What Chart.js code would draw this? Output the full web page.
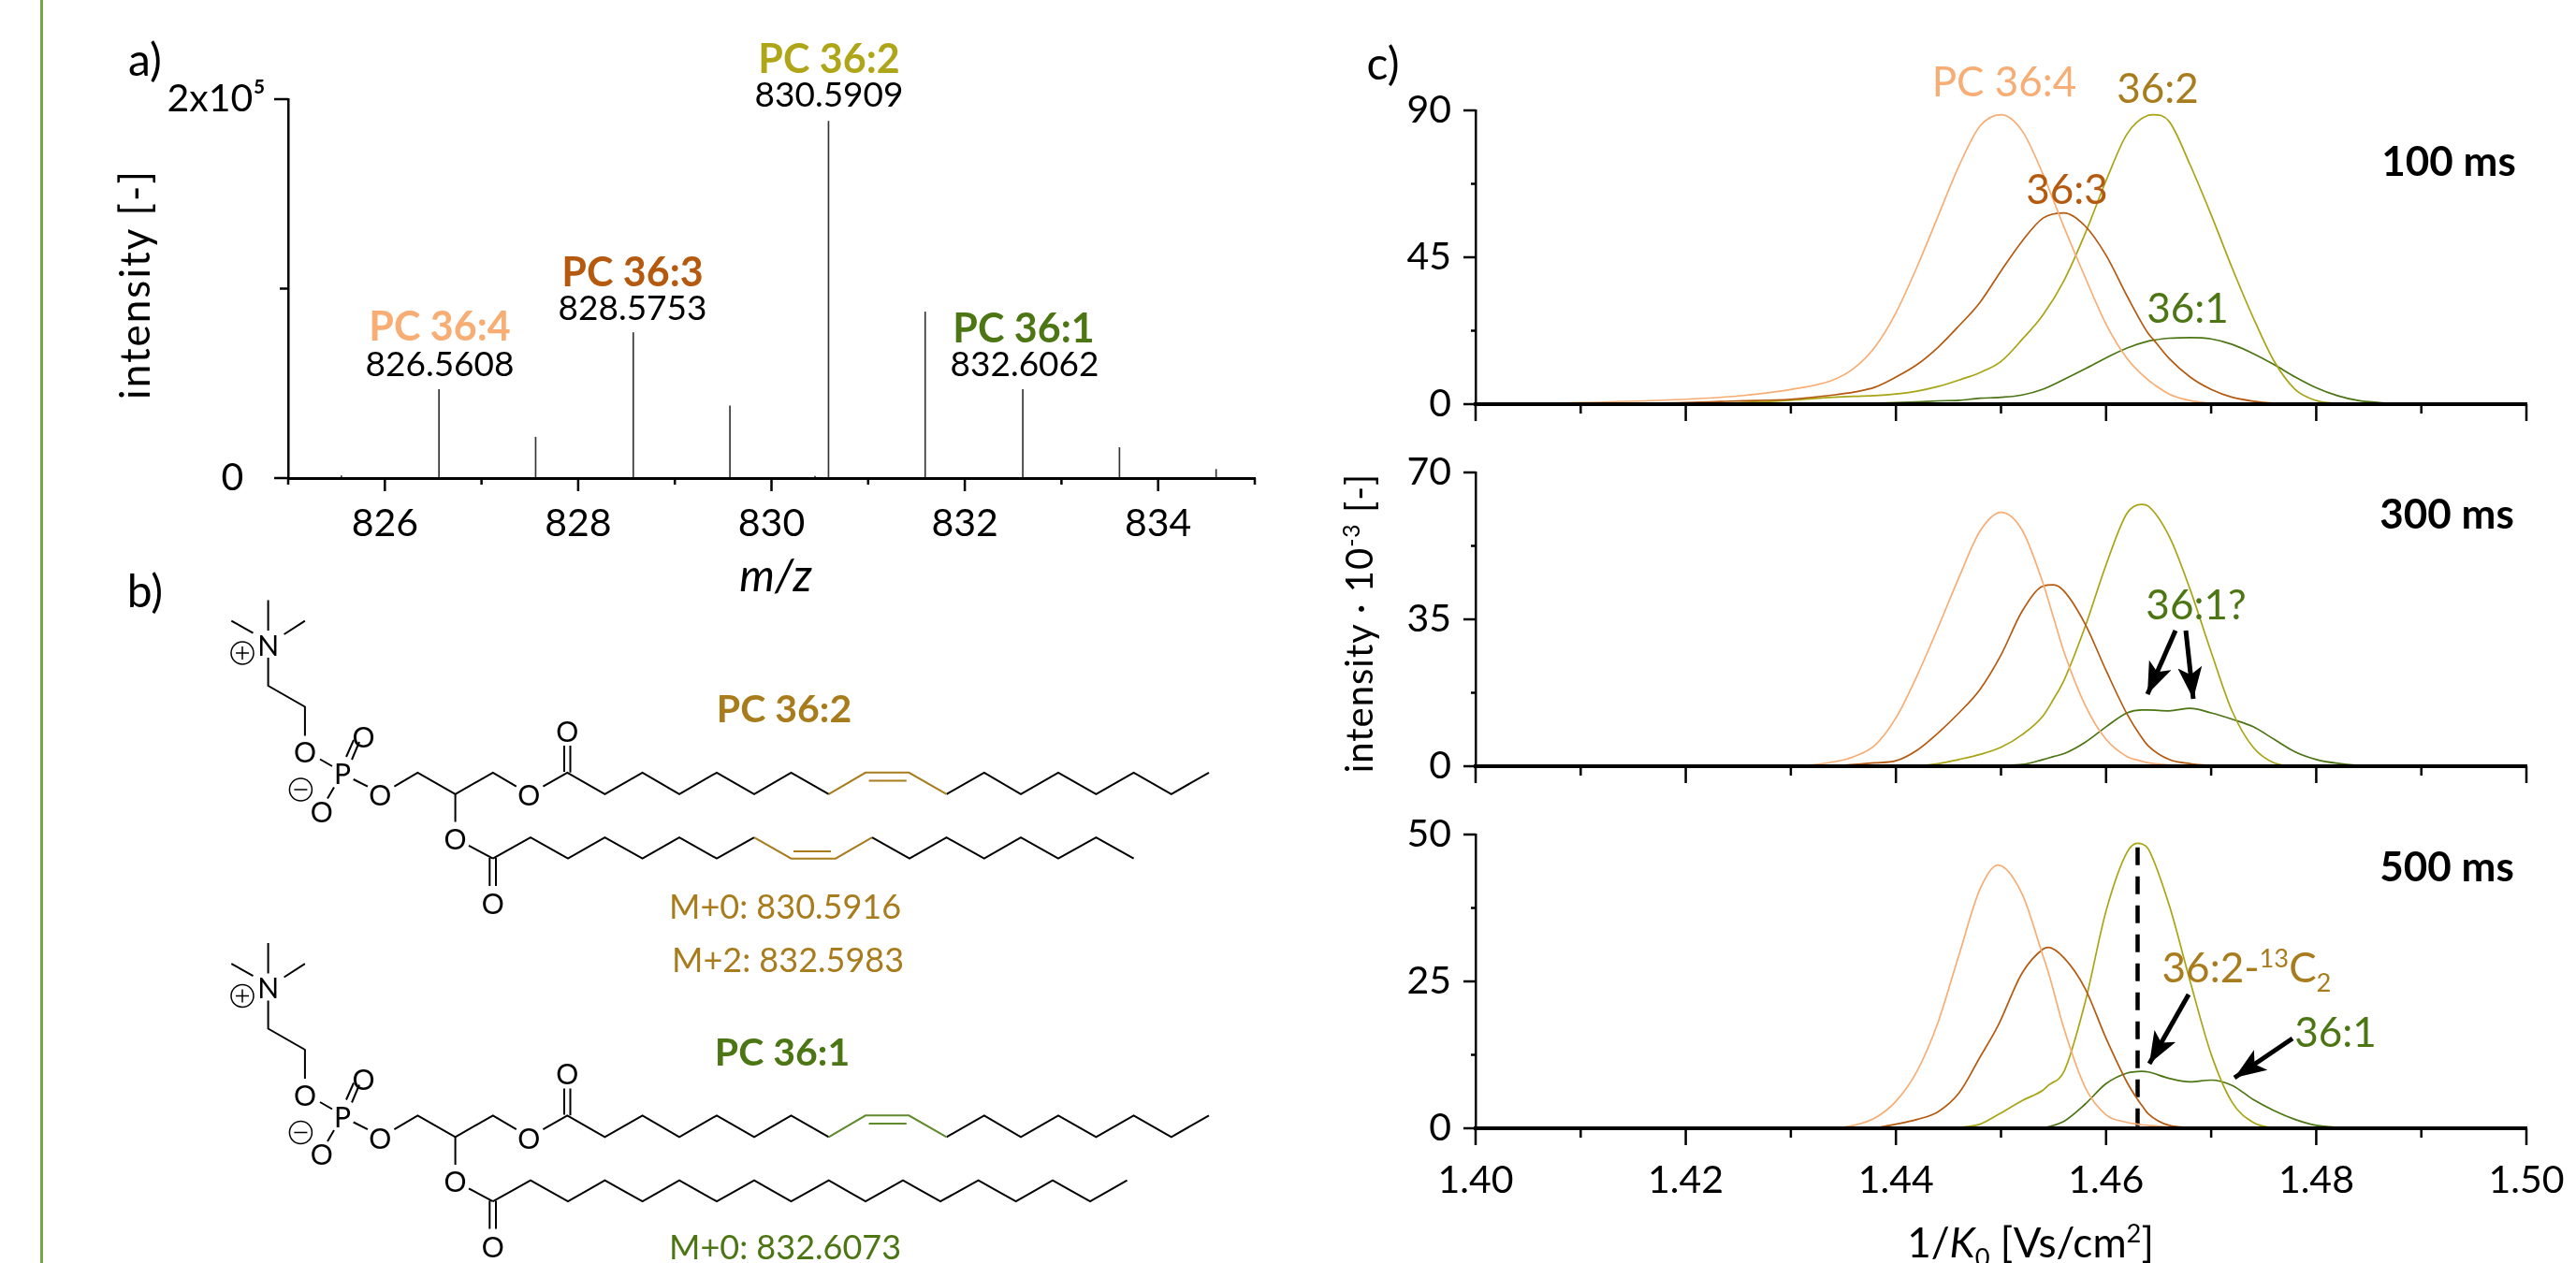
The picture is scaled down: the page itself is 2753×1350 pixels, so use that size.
<!DOCTYPE html>
<html>
<head>
<meta charset="utf-8">
<title>PC 36 lipids</title>
<script src="https://cdn.jsdelivr.net/npm/chart.js@4"></script>
<style>
  html, body { margin: 0; background: #fff; }
  #page { position: relative; width: 2753px; height: 1350px; overflow: hidden; font-family: Lato, sans-serif; color: #000; }
  canvas { position: absolute; }
  .bar { position: absolute; left: 43px; top: 0; width: 3px; height: 1350px; background: #76a544; }
  .t { position: absolute; transform: translate(-50%, -50%); white-space: nowrap; font-size: 44px; line-height: 1; }
  .b { font-weight: 700; }
  .r { transform: translate(-50%, -50%) rotate(-90deg); letter-spacing: 2px; }
  .t sup, .t sub { font-size: 62%; line-height: 0; }
  svg { position: absolute; left: 0; top: 0; }
  svg text { font-family: Lato, sans-serif; font-size: 30px; text-anchor: middle; dominant-baseline: central; }
</style>
</head>
<body>
<div id="page">
  <div class="bar"></div>
  <canvas id="spectrum" style="left:160px;top:70px" width="1281" height="540"></canvas>
  <canvas id="mob100" style="left:1477px;top:90px" width="1286" height="390"></canvas>
  <canvas id="mob300" style="left:1477px;top:480px" width="1286" height="385"></canvas>
  <canvas id="mob500" style="left:1477px;top:865px" width="1286" height="430"></canvas>

  <svg width="2753" height="1350" fill="none" stroke="#000" stroke-width="2">
    <defs>
      <marker id="head" markerUnits="userSpaceOnUse" markerWidth="36" markerHeight="26" refX="34" refY="13" orient="auto">
        <path d="M0,0 L34,13 L0,26 L8,13 Z" fill="#000" stroke="none"/>
      </marker>
      <g id="lipid">
        <path d="M286.6,641.6V674 M247.3,663.6L270.5,676.6 M325.9,663.6L303.6,678 M286.6,703V733L325.9,755.5V786.6"/>
        <path d="M342,811.5L355,819 M370,809L378,791 M376,812L384,793 M357,841.6L350,853.6 M377.7,833L392.9,840.7"/>
        <polyline points="421.4,840.7 446.4,825.8 486.6,848.8 526.8,825.8 551.8,840.7"/>
        <polyline points="580.4,840.7 606.3,825.8 646.4,848.8 686.6,825.8 726,848.8 766,825.8 806,848.8 845.5,825.8 885.7,848.8"/>
        <polyline points="1011.6,848.8 1051.8,825.8 1091,848.8 1131,825.8 1171.4,848.8 1211.6,825.8 1251.8,848.8 1292,825.8"/>
        <polyline stroke="currentColor" points="885.7,848.8 925,825.8 971.4,825.8 1011.6,848.8"/>
        <path stroke="currentColor" d="M928.6,834.4H968.8"/>
        <path d="M603,825V797 M609.5,825.8V797 M486.6,848.8V878.5 M501,903.8L526.8,917.7 M523.3,917V947 M530,917V947"/>
        <circle cx="259" cy="698" r="12" stroke-width="1.5"/>
        <path stroke-width="1.5" d="M252,698H266 M259,691V705"/>
        <circle cx="321.4" cy="844" r="12" stroke-width="1.5"/>
        <path stroke-width="1.5" d="M314.4,844H328.4"/>
        <g fill="#000" stroke="none">
          <text x="286.6" y="688.5">N</text>
          <text x="325.9" y="803.3">O</text>
          <text x="366" y="826">P</text>
          <text x="388.4" y="786.6">O</text>
          <text x="343.8" y="866.5">O</text>
          <text x="406.3" y="849.3">O</text>
          <text x="565.2" y="849.3">O</text>
          <text x="606.3" y="780.9">O</text>
          <text x="486.6" y="895.7">O</text>
          <text x="526.8" y="965">O</text>
        </g>
      </g>
    </defs>
    <use href="#lipid" style="color:#a87c1c"/>
    <use href="#lipid" y="366.5" style="color:#5f8a2e"/>
    <polyline points="526.8,917.7 567,895.2 607,917.7 646.4,895.2 686.6,917.7 726,895.2 766,917.7 806,895.2"/>
    <polyline stroke="#a87c1c" points="806,895.2 845.5,917.7 893,917.7 932,895.2"/>
    <path stroke="#a87c1c" d="M848,910H888"/>
    <polyline points="932,895.2 972,917.7 1011.6,895.2 1051.8,917.7 1091,895.2 1131,917.7 1171.4,895.2 1211.6,917.7"/>
    <polyline points="526.8,1284.2 567,1261.7 607,1284.2 646.4,1261.7 686.6,1284.2 726,1261.7 766,1284.2 806,1261.7 845.5,1284.2 885.7,1261.7 925,1284.2 965,1261.7 1005,1284.2 1045.6,1261.7 1085.7,1284.2 1125,1261.7 1165,1284.2 1204.5,1261.7"/>
    <path stroke-width="5" marker-end="url(#head)" d="M2325,674L2295,742"/>
    <path stroke-width="5" marker-end="url(#head)" d="M2336,674L2344,747"/>
    <path stroke-width="5" marker-end="url(#head)" d="M2339,1063L2297,1137"/>
    <path stroke-width="5" marker-end="url(#head)" d="M2450,1110L2388,1152"/>
  </svg>

  <div class="t" style="left:155px;top:63px;font-size:48px">a)</div>
  <div class="t" style="left:155px;top:631px;font-size:48px">b)</div>
  <div class="t" style="left:1478px;top:67px;font-size:48px">c)</div>

  <div class="t r" style="left:143px;top:304px;font-size:44px">intensity [-]</div>
  <div class="t" style="left:829px;top:614px;font-size:48px;font-style:italic">m/z</div>
  <div class="t b" style="left:886px;top:61px;color:#aea618;font-size:43px">PC 36:2</div>
  <div class="t" style="left:886px;top:99px;font-size:37px">830.5909</div>
  <div class="t b" style="left:676px;top:289px;color:#b5590f;font-size:43px">PC 36:3</div>
  <div class="t" style="left:676px;top:327px;font-size:37px">828.5753</div>
  <div class="t b" style="left:470px;top:347px;color:#f7ad73;font-size:43px">PC 36:4</div>
  <div class="t" style="left:470px;top:387px;font-size:37px">826.5608</div>
  <div class="t b" style="left:1094px;top:349px;color:#4c7513;font-size:43px">PC 36:1</div>
  <div class="t" style="left:1095px;top:387px;font-size:37px">832.6062</div>

  <div class="t b" style="left:838px;top:756px;font-size:41px;color:#a87c1c">PC 36:2</div>
  <div class="t" style="left:839px;top:968px;font-size:36px;color:#a87c1c">M+0: 830.5916</div>
  <div class="t" style="left:842px;top:1025px;font-size:36px;color:#a87c1c">M+2: 832.5983</div>
  <div class="t b" style="left:836px;top:1123px;font-size:41px;color:#4c7513">PC 36:1</div>
  <div class="t" style="left:839px;top:1332px;font-size:36px;color:#4c7513">M+0: 832.6073</div>

  <div class="t r" style="left:1452px;top:666px;font-size:40px;letter-spacing:1px">intensity · 10<sup>-3</sup> [-]</div>
  <div class="t" style="left:2170px;top:1327px">1/<i>K</i><sub>0</sub> [Vs/cm<sup>2</sup>]</div>
  <div class="t" style="left:2142px;top:86px;color:#f7ad73">PC 36:4</div>
  <div class="t" style="left:2306px;top:93px;color:#a87c1c">36:2</div>
  <div class="t" style="left:2209px;top:201px;color:#b5590f">36:3</div>
  <div class="t" style="left:2338px;top:328px;color:#4c7513">36:1</div>
  <div class="t b" style="left:2617px;top:171px">100 ms</div>
  <div class="t b" style="left:2615px;top:548px">300 ms</div>
  <div class="t" style="left:2347px;top:645px;color:#4c7513">36:1?</div>
  <div class="t b" style="left:2615px;top:925px">500 ms</div>
  <div class="t" style="left:2401px;top:1033px;color:#a87c1c">36:2-<sup>13</sup>C<sub>2</sub></div>
  <div class="t" style="left:2496px;top:1102px;color:#4c7513">36:1</div>
</div>

<script>
// a) mass spectrum
const mz = [825.55, 826.56, 827.56, 828.57, 829.57, 830.45, 830.59, 831.59, 832.6, 833.6, 834.6];
const mzIntensity = [1200, 46800, 21600, 76800, 38100, 1000, 188300, 87700, 46800, 16100, 4600];
const mzTicks = [825, 826, 827, 828, 829, 830, 831, 832, 833, 834, 835];
const mzLabels = ['', '826', '', '828', '', '830', '', '832', '', '834', ''];
const mzIntTicks = [0, 100000, 200000];
const mzIntLabels = ['0\u2007', '', '2x10⁵'];

// c) mobilograms, x grid shared per panel
const x100 = [1.40,1.41,1.42,1.425,1.43,1.434,1.436,1.438,1.44,1.442,1.444,1.446,1.448,1.45,1.452,1.454,1.456,1.458,1.46,1.462,1.464,1.4645,1.466,1.468,1.47,1.472,1.474,1.476,1.478,1.48,1.482,1.484,1.486,1.488,1.49,1.50];
const pc364_100 = [.2,.5,1.5,2.5,4.5,7.4,11,17.5,28,42,57.5,73,85.2,88.7,83.8,70.4,54.2,38.9,24.5,14,7.4,6.2,3.1,1.1,.3,.1,0,0,0,0,0,0,0,0,0,0];
const pc363_100 = [.1,.2,.5,1,1.5,2.8,3.7,5.2,8.3,12.1,17.4,24,31.2,40.8,49.9,57,58.6,54.6,45.6,33.1,21.7,19.8,14,8.3,4.5,2.1,.9,.3,.1,0,0,0,0,0,0,0];
const pc362_100 = [0,.1,.2,.5,1.2,2.1,2.4,2.6,3.1,4,5.4,7.4,9.7,13.1,19.8,27.4,37.9,52.2,68.5,82.8,88.5,88.7,86.6,73.3,58,41.7,26.5,13.1,4.5,1.1,.2,0,0,0,0,0];
const pc361_100 = [0,0,0,0,0,.1,.2,.3,.5,.7,1,1.2,1.8,2.1,2.8,4.6,7.6,10.8,14.2,17.2,19.3,19.6,20.2,20.4,20,18.3,15.5,12.1,8.3,5,2.6,1.1,.5,.1,0,0];

const x300 = [1.40,1.42,1.43,1.434,1.436,1.438,1.44,1.442,1.444,1.446,1.448,1.45,1.452,1.454,1.455,1.456,1.458,1.46,1.462,1.4634,1.464,1.466,1.468,1.47,1.472,1.474,1.476,1.478,1.48,1.482,1.484,1.486,1.488,1.49,1.50];
const pc364_300 = [0,0,.1,1,2.3,5,11.5,21.5,33,45,56,60.5,56.3,43.6,35.4,27.2,14.6,6.4,2.3,1.2,.8,.3,.1,0,0,0,0,0,0,0,0,0,0,0,0];
const pc363_300 = [0,0,0,.1,.4,.8,1.3,3.8,7.9,12.7,18.3,26.5,36.9,42.9,43.2,41.7,33.9,22.8,12.4,6.8,4.9,1.6,.6,.2,.05,0,0,0,0,0,0,0,0,0,0];
const pc362_300 = [0,0,0,0,0,0,0,.1,.6,1.6,2.8,4.5,7.5,12,16,20.5,33.2,48,60.3,62.4,62,54.8,42.1,27.2,13.1,4.5,.8,.1,0,0,0,0,0,0,0];
const pc361_300 = [0,0,0,0,0,0,0,0,0,0,.1,.2,.4,1.6,2.3,3,5.7,9.4,12.7,13.4,13.4,13.2,13.8,12.7,11.2,9.4,6.4,3.4,1.6,.7,.2,0,0,0,0];

const x500 = [1.40,1.43,1.434,1.436,1.438,1.44,1.442,1.444,1.446,1.448,1.4497,1.452,1.454,1.4545,1.456,1.458,1.46,1.462,1.463,1.4634,1.464,1.466,1.468,1.47,1.472,1.474,1.476,1.478,1.48,1.482,1.484,1.486,1.49,1.50];
const pc364_500 = [0,0,.05,.5,1.75,4.6,9.7,18,29.5,40.7,44.8,39.9,29.3,26.6,16.9,7,2.3,1,.7,.6,.5,.2,0,0,0,0,0,0,0,0,0,0,0,0];
const pc363_500 = [0,0,0,0,.1,.7,1.5,2.8,6,12.1,17.4,26.4,30.5,30.8,29,23.8,15.3,7.8,4.9,3.9,2.5,.5,.15,0,0,0,0,0,0,0,0,0,0,0];
const pc362_500 = [0,0,0,0,0,0,0,0,.15,.7,2.3,4.7,6.5,7.3,9.7,21.4,37,47,48.5,48.4,47.6,38,25,12.6,4.4,1,.1,0,0,0,0,0,0,0];
const pc361_500 = [0,0,0,0,0,0,0,0,0,0,0,0,.05,.25,1.2,4.1,7.6,9.4,9.65,9.7,9.6,8.5,7.9,8.2,7.3,4.9,3,1.5,.5,.15,.05,0,0,0];

const k0Ticks = [1.40,1.41,1.42,1.43,1.44,1.45,1.46,1.47,1.48,1.49,1.50];
const k0Labels = ['1.40','','1.42','','1.44','','1.46','','1.48','','1.50'];
const noLabels = k0Labels.map(() => '');
const yTicks100 = [0, 22.5, 45, 67.5, 90];
const yLabels100 = ['0', '', '45', '', '90'];
const yTicks300 = [0, 17.5, 35, 52.5, 70];
const yLabels300 = ['0', '', '35', '', '70'];
const yTicks500 = [0, 12.5, 25, 37.5, 50];
const yLabels500 = ['0', '', '25', '', '50'];
const dashX = [1.463, 1.463];
const dashY = [47.8, 0.3];

const PEACH = '#f7ad73', BROWN = '#b5590f', OLIVE = '#a8a414', GREEN = '#4c7513';
const AXIS_FONT = { family: 'Lato', size: 41 };

// Chart.js has one tickLength per scale, so long and short ticks are drawn here
function tickMarks(xLong, xShort, yLong, yShort) {
    return {
        id: 'tickMarks',
        afterDraw(chart) {
            const c = chart.ctx, sx = chart.scales.x, sy = chart.scales.y;
            const xLabels = sx.options.majorEvery, yLabels = sy.options.majorEvery;
            c.save();
            c.strokeStyle = '#000';
            c.lineWidth = 2.5;
            c.beginPath();
            sx.ticks.forEach((t, i) => {
                const px = sx.getPixelForValue(t.value);
                c.moveTo(px, sx.top);
                c.lineTo(px, sx.top + (i % 2 == xLabels ? xLong : xShort));
            });
            sy.ticks.forEach((t, i) => {
                const py = sy.getPixelForValue(t.value);
                c.moveTo(sy.right, py);
                c.lineTo(sy.right - (i % 2 == yLabels ? yLong : yShort), py);
            });
            c.stroke();
            c.restore();
        }
    };
}

function xAxis(min, max, ticks, labels, padding, height, border, majorEvery) {
    return {
        type: 'linear', min, max, offset: false, majorEvery,
        afterBuildTicks: s => { s.ticks = ticks.map(v => ({ value: v })); },
        afterFit: s => { s.height = height; s.paddingLeft = 0; s.paddingRight = 0; },
        border: { color: '#000', width: border, z: 1 },
        grid: { drawOnChartArea: false, drawTicks: false },
        ticks: { color: '#000', font: AXIS_FONT, padding, autoSkip: false, maxRotation: 0, minRotation: 0,
                 callback: (v, i) => labels[i] }
    };
}

function yAxis(max, ticks, labels, width, padding) {
    return {
        min: 0, max, majorEvery: 0,
        afterBuildTicks: s => { s.ticks = ticks.map(v => ({ value: v })); },
        afterFit: s => { s.width = width; s.paddingTop = 0; s.paddingBottom = 0; },
        border: { color: '#000', width: 2.5, z: 1 },
        grid: { drawOnChartArea: false, drawTicks: false },
        ticks: { color: '#000', font: AXIS_FONT, padding, autoSkip: false, callback: (v, i) => labels[i] }
    };
}

const pairs = (xs, ys) => xs.map((x, i) => ({ x, y: ys[i] }));

new Chart(document.getElementById('spectrum'), {
    type: 'bar',
    data: {
        datasets: [{
            data: pairs(mz, mzIntensity),
            backgroundColor: '#333',
            barThickness: 1
        }]
    },
    options: {
        responsive: false,
        animation: false,
        devicePixelRatio: 1,
        layout: { padding: { top: 36, right: 100 } },
        plugins: { legend: { display: false }, tooltip: { enabled: false } },
        scales: {
            x: xAxis(825, 835, mzTicks, mzLabels, 24, 99, 3, 1),
            y: yAxis(200000, mzIntTicks, mzIntLabels, 148, 24)
        }
    },
    plugins: [tickMarks(14, 7, 15, 9)]
});

function mobilogram(id, top, bottom, xs, s364, s363, s362, s361, yMax, yTicks, yLabels, xLabels, extra) {
    const curve = (ys, color) => ({
        data: pairs(xs, ys), borderColor: color, borderWidth: 1.7, pointRadius: 0,
        cubicInterpolationMode: 'monotone', clip: false
    });
    const canvas = document.getElementById(id);
    new Chart(canvas, {
        type: 'line',
        data: { datasets: [curve(s364, PEACH), curve(s363, BROWN), curve(s362, OLIVE), curve(s361, GREEN)].concat(extra || []) },
        options: {
            responsive: false,
            animation: false,
            devicePixelRatio: 1,
            layout: { padding: { top, right: 63 } },
            plugins: { legend: { display: false }, tooltip: { enabled: false } },
            scales: {
                x: xAxis(1.40, 1.50, k0Ticks, xLabels, 31, canvas.height - bottom, 4, 0),
                y: yAxis(yMax, yTicks, yLabels, 100, 26)
            }
        },
        plugins: [tickMarks(18, 10, 13, 5)]
    });
}

mobilogram('mob100', 28, 342, x100, pc364_100, pc363_100, pc362_100, pc361_100, 90, yTicks100, yLabels100, noLabels);
mobilogram('mob300', 25, 339, x300, pc364_300, pc363_300, pc362_300, pc361_300, 70, yTicks300, yLabels300, noLabels);
mobilogram('mob500', 27, 341, x500, pc364_500, pc363_500, pc362_500, pc361_500, 50, yTicks500, yLabels500, k0Labels, [{
    data: pairs(dashX, dashY), borderColor: '#000', borderWidth: 4.5, borderDash: [19, 12], pointRadius: 0, clip: false
}]);
</script>
</body>
</html>
